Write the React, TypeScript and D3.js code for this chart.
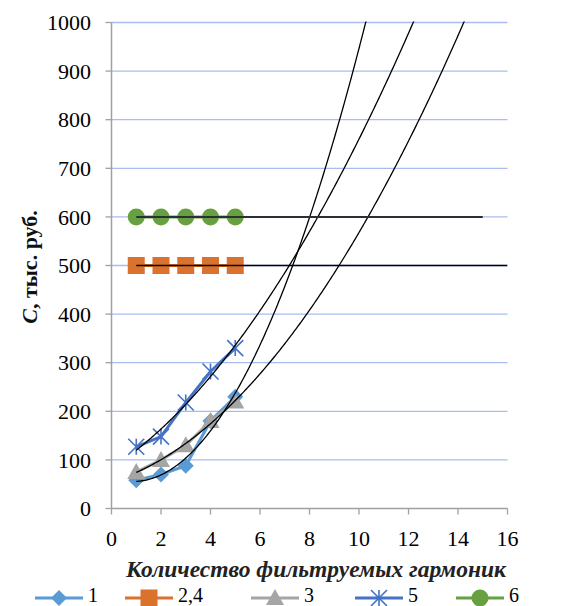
import * as d3 from "d3";

const HARMONICS = [1, 2, 3, 4, 5];
const S1 = [58, 70, 88, 180, 230];
const S24 = [500, 500, 500, 500, 500];
const S3 = [75, 100, 130, 180, 220];
const S5 = [127, 148, 218, 282, 330];
const S6 = [600, 600, 600, 600, 600];

const X_TICKS = [0, 2, 4, 6, 8, 10, 12, 14, 16];
const Y_TICKS = [0, 100, 200, 300, 400, 500, 600, 700, 800, 900, 1000];

const W = 566, H = 606;
const M = { left: 111.5, right: 507.5, top: 22.5, bottom: 508.5 };
const SERIF =
  '"Liberation Serif", "Times New Roman", Times, "Nimbus Roman", "Noto Serif", "DejaVu Serif", serif';

const x = d3.scaleLinear().domain([0, 16]).range([M.left, M.right]);
const y = d3.scaleLinear().domain([0, 1000]).range([M.bottom, M.top]);

// quadratic least-squares fit, like the spreadsheet's polynomial trendline
function quadFit(xs: number[], ys: number[]) {
  const n = xs.length;
  let s1 = 0, s2 = 0, s3 = 0, s4 = 0, sy = 0, sxy = 0, sx2y = 0;
  xs.forEach((v, i) => {
    s1 += v; s2 += v * v; s3 += v ** 3; s4 += v ** 4;
    sy += ys[i]; sxy += v * ys[i]; sx2y += v * v * ys[i];
  });
  const A = [[n, s1, s2], [s1, s2, s3], [s2, s3, s4]];
  const B = [sy, sxy, sx2y];
  const det = (m: number[][]) =>
    m[0][0] * (m[1][1] * m[2][2] - m[1][2] * m[2][1]) -
    m[0][1] * (m[1][0] * m[2][2] - m[1][2] * m[2][0]) +
    m[0][2] * (m[1][0] * m[2][1] - m[1][1] * m[2][0]);
  const D = det(A);
  const coef = [0, 1, 2].map(k => det(A.map((row, r) => row.map((c, j) => (j === k ? B[r] : c)))) / D);
  return (t: number) => coef[0] + coef[1] * t + coef[2] * t * t;
}

const SERIES = [
  { name: "1", values: S1, color: "#5B9BD5", marker: "diamond" },
  { name: "2,4", values: S24, color: "#DA712D", marker: "square" },
  { name: "3", values: S3, color: "#A5A5A5", marker: "triangle" },
  { name: "5", values: S5, color: "#4472C4", marker: "star" },
  { name: "6", values: S6, color: "#66A040", marker: "circle" },
];

function Marker({ type, cx, cy, color }: { type: string; cx: number; cy: number; color: string }) {
  if (type === "diamond")
    return <path d={`M${cx},${cy - 8}L${cx + 8},${cy}L${cx},${cy + 8}L${cx - 8},${cy}Z`} fill={color} />;
  if (type === "square")
    return <rect x={cx - 8.5} y={cy - 8.5} width={17} height={17} fill={color} />;
  if (type === "triangle")
    return <path d={`M${cx},${cy - 9}L${cx + 9},${cy + 7}L${cx - 9},${cy + 7}Z`} fill={color} />;
  if (type === "circle")
    return <circle cx={cx} cy={cy} r={8.5} fill={color} />;
  const r = 8;
  return (
    <path
      d={`M${cx - r},${cy - r}L${cx + r},${cy + r}M${cx - r},${cy + r}L${cx + r},${cy - r}M${cx},${cy - r}L${cx},${cy + r}`}
      stroke={color}
      strokeWidth={1.6}
      fill="none"
    />
  );
}

export default function App() {
  const line = d3.line<number>().x((_, i) => x(HARMONICS[i])).y(d => y(d));

  const fits = [S1, S3, S5].map(vals => {
    const f = quadFit(HARMONICS, vals);
    const pts = d3.range(1, 16.001, 0.05).map(t => [t, f(t)] as [number, number]);
    return d3.line<[number, number]>().x(d => x(d[0])).y(d => y(d[1]))(pts) || "";
  });

  const legendItems = [
    { s: SERIES[0], x0: 35 },
    { s: SERIES[1], x0: 125 },
    { s: SERIES[2], x0: 251 },
    { s: SERIES[3], x0: 355 },
    { s: SERIES[4], x0: 456 },
  ];

  return (
    <svg width={W} height={H} style={{ position: "absolute", left: 0, top: 0, background: "#fff", fontFamily: SERIF }}>
      <defs>
        <clipPath id="plot">
          <rect x={M.left} y={M.top - 1} width={M.right - M.left} height={M.bottom - M.top + 1} />
        </clipPath>
      </defs>

      {/* gridlines */}
      {Y_TICKS.filter(v => v > 0).map(v => (
        <line key={v} x1={M.left} x2={M.right} y1={y(v)} y2={y(v)} stroke="#A9BCEE" strokeWidth={1.3} />
      ))}

      {/* axes */}
      <line x1={M.left} x2={M.left} y1={M.top} y2={M.bottom} stroke="#A0A0A0" strokeWidth={1.5} />
      <line x1={M.left} x2={M.right} y1={M.bottom} y2={M.bottom} stroke="#A0A0A0" strokeWidth={1.5} />
      {Y_TICKS.map(v => (
        <g key={v}>
          <line x1={M.left - 6} x2={M.left} y1={y(v)} y2={y(v)} stroke="#A0A0A0" strokeWidth={1.3} />
          <text x={91} y={y(v)} dy="0.35em" textAnchor="end" fontSize={22}>{v}</text>
        </g>
      ))}
      {X_TICKS.map(v => (
        <g key={v}>
          <line x1={x(v)} x2={x(v)} y1={M.bottom} y2={M.bottom + 6} stroke="#A0A0A0" strokeWidth={1.3} />
          <text x={x(v)} y={546} textAnchor="middle" fontSize={22}>{v}</text>
        </g>
      ))}

      {/* series */}
      {SERIES.map(s => (
        <g key={s.name}>
          <path d={line(s.values) || ""} fill="none" stroke={s.color} strokeWidth={3} />
          {s.values.map((v, i) => (
            <Marker key={i} type={s.marker} cx={x(HARMONICS[i])} cy={y(v)} color={s.color} />
          ))}
        </g>
      ))}

      {/* trendlines */}
      <g clipPath="url(#plot)">
        {fits.map((d, i) => (
          <path key={i} d={d} fill="none" stroke="#000" strokeWidth={1.3} />
        ))}
        <line x1={x(1)} x2={x(16)} y1={y(d3.mean(S24)!)} y2={y(d3.mean(S24)!)} stroke="#000" strokeWidth={1.5} />
        <line x1={x(1)} x2={x(15)} y1={y(d3.mean(S6)!)} y2={y(d3.mean(S6)!)} stroke="#2b2f36" strokeWidth={2} />
      </g>

      {/* axis titles */}
      <text x={316} y={577} textAnchor="middle" fontSize={23.5} fontWeight="bold" fontStyle="italic" fill="#222">
        Количество фильтруемых гармоник
      </text>
      <text
        transform={`translate(37,${267}) rotate(-90)`}
        textAnchor="middle"
        fontSize={22}
        fontWeight="bold"
        fill="#111"
      >
        <tspan fontStyle="italic">С</tspan>, тыс. руб.
      </text>

      {/* legend */}
      {legendItems.map(({ s, x0 }) => (
        <g key={s.name}>
          <line x1={x0} x2={x0 + 48} y1={598} y2={598} stroke={s.color} strokeWidth={3} />
          <Marker type={s.marker} cx={x0 + 24} cy={598} color={s.color} />
          <text x={x0 + 53} y={602} fontSize={20}>{s.name}</text>
        </g>
      ))}
    </svg>
  );
}
